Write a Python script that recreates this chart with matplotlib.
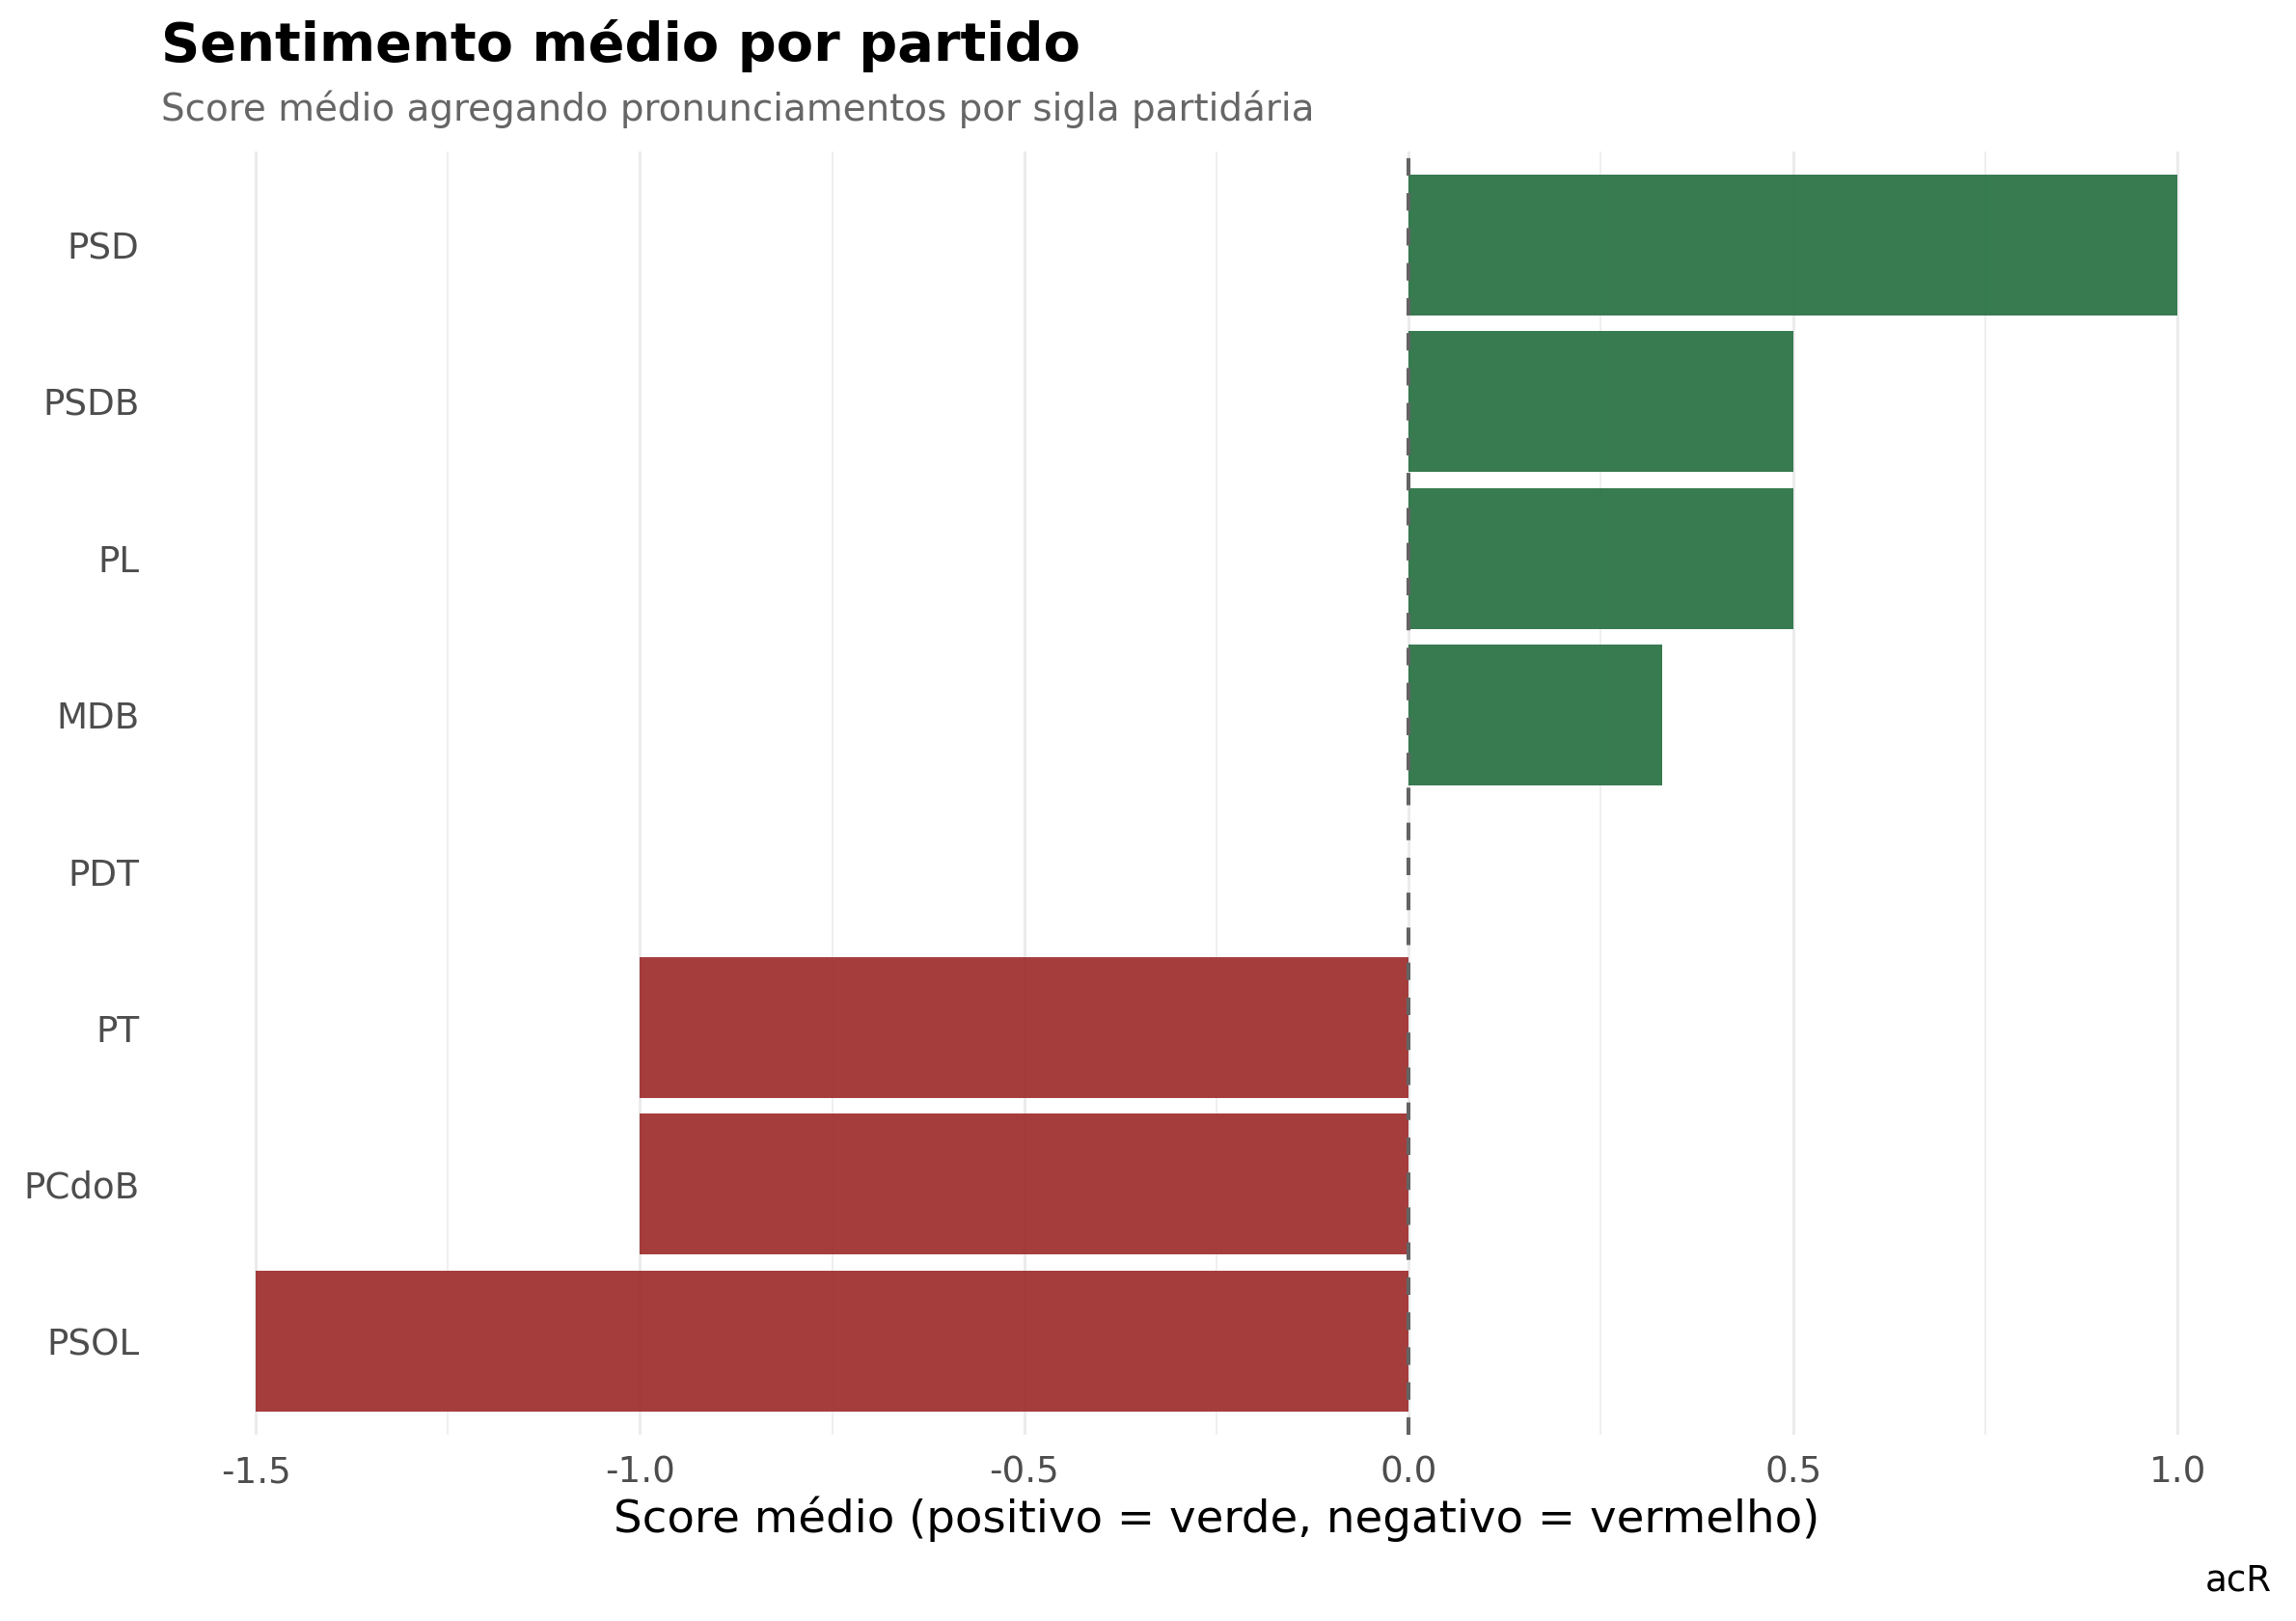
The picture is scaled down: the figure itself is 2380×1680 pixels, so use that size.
import matplotlib.pyplot as plt
import numpy as np

partidos = ["PSD", "PSDB", "PL", "MDB", "PDT", "PT", "PCdoB", "PSOL"]
scores = [1.0, 0.5, 0.5, 0.33, 0.0, -1.0, -1.0, -1.5]

cor_pos = "#226d3e"
cor_neg = "#9c2828"

fig = plt.figure(figsize=(11.9, 8.4), dpi=200)
ax = fig.add_axes([0.0695, 0.1149, 0.9207, 0.7917])

# categorias de cima para baixo
ypos = np.arange(len(partidos))[::-1] + 1
cores = [cor_pos if s > 0 else cor_neg for s in scores]
ax.barh(ypos, scores, height=0.9, color=cores, alpha=0.9, zorder=2)
ax.axvline(0, color="#636363", linestyle=(0, (4.5, 4.5)), linewidth=1.45, zorder=3)

ax.set_xlim(-1.625, 1.125)
ax.set_ylim(0.4, len(partidos) + 0.6)
ax.set_yticks(ypos)
ax.set_yticklabels(partidos)
ax.set_xticks(np.arange(-1.5, 1.01, 0.5))
ax.set_xticklabels(["-1.5", "-1.0", "-0.5", "0.0", "0.5", "1.0"])
ax.set_xticks(np.arange(-1.25, 1.01, 0.5), minor=True)

ax.grid(axis="x", which="major", color="#ebebeb", linewidth=1.1, zorder=0)
ax.grid(axis="x", which="minor", color="#ebebeb", linewidth=0.55, zorder=0)
ax.tick_params(axis="both", which="both", length=0, labelsize=13.4, labelcolor="#4d4d4d")
ax.tick_params(axis="y", pad=7.5)
ax.tick_params(axis="x", pad=7.5)
for s in ax.spines.values():
    s.set_visible(False)

fig.text(0.5297, 0.0548, "Score médio (positivo = verde, negativo = vermelho)", fontsize=16.8,
         color="black", ha="center", va="baseline")
fig.text(0.0702, 0.9625, "Sentimento médio por partido", fontsize=20.1, fontweight="bold",
         ha="left", va="baseline")
fig.text(0.0702, 0.9256, "Score médio agregando pronunciamentos por sigla partidária",
         fontsize=14.0, color="#666666", ha="left", va="baseline")
fig.text(0.9895, 0.0185, "acR", fontsize=13.4, color="black", ha="right", va="baseline")

fig.savefig("out.png", dpi=200, facecolor="white")
